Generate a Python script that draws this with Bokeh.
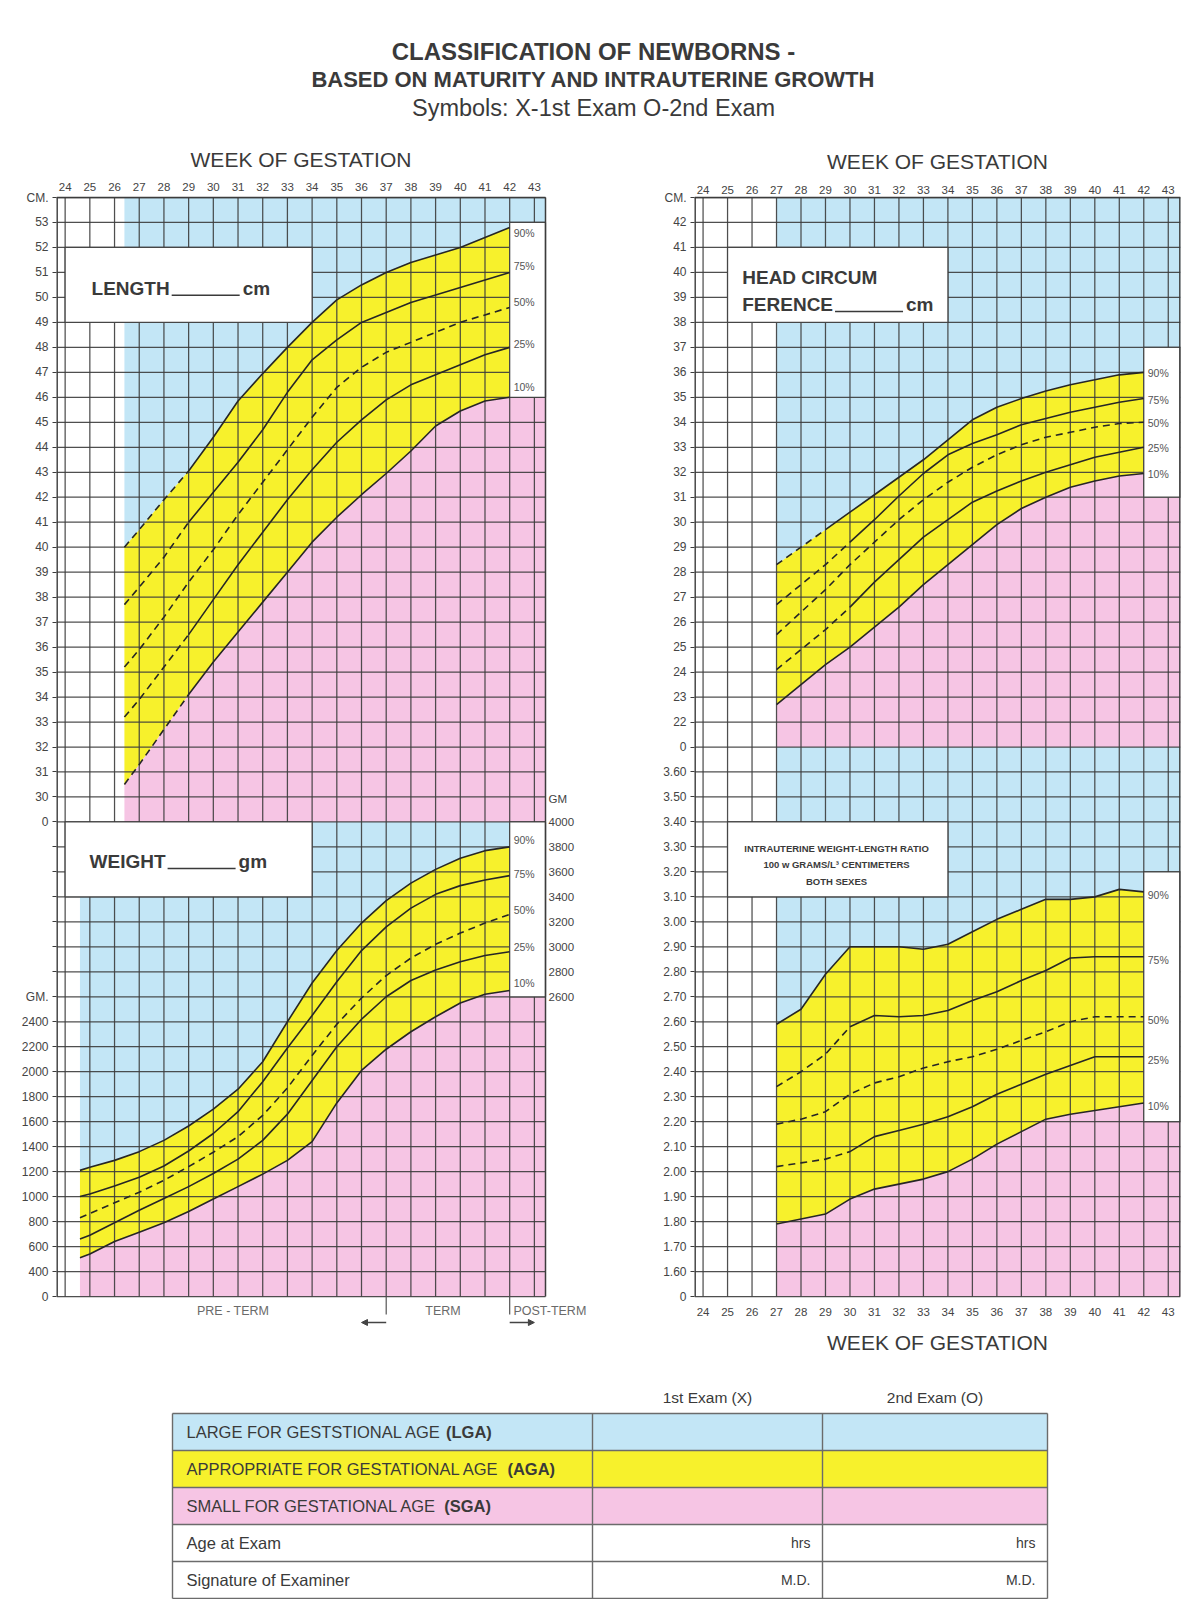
from bokeh.plotting import figure
from bokeh.models import Range1d, FixedTicker, Arrow, NormalHead
from bokeh.layouts import column, row
from bokeh.embed import file_html
from bokeh.resources import INLINE
from bokeh.core.properties import value

# ---------------------------------------------------------------- data
TITLE_LINES = ["CLASSIFICATION OF NEWBORNS -",
               "BASED ON MATURITY AND INTRAUTERINE GROWTH",
               "Symbols: X-1st Exam O-2nd Exam"]
AXIS_TITLE = "WEEK OF GESTATION"
WEEK_TICKS = list(range(24, 44))
PCT_LABELS = ["90%", "75%", "50%", "25%", "10%"]

# Length (cm)
LEN_WEEKS = [26.4, 27, 28, 29, 30, 31, 32, 33, 34, 35, 36, 37, 38, 39, 40, 41, 42]
LEN_90 = [40.0, 40.7, 41.9, 43.05, 44.4, 45.85, 46.95, 48.0, 49.0, 49.9, 50.5, 51.0, 51.4, 51.7, 52.0, 52.4, 52.8]
LEN_75 = [37.7, 38.4, 39.6, 41.0, 42.2, 43.4, 44.7, 46.2, 47.5, 48.3, 49.0, 49.4, 49.8, 50.1, 50.4, 50.7, 51.0]
LEN_50 = [35.2, 35.9, 37.2, 38.6, 39.9, 41.3, 42.6, 43.9, 45.2, 46.4, 47.2, 47.8, 48.2, 48.6, 49.0, 49.3, 49.6]
LEN_25 = [33.2, 33.9, 35.2, 36.5, 37.9, 39.3, 40.6, 41.9, 43.1, 44.2, 45.1, 45.9, 46.5, 46.9, 47.3, 47.7, 48.0]
LEN_10 = [30.5, 31.3, 32.7, 34.1, 35.4, 36.6, 37.8, 39.0, 40.2, 41.2, 42.1, 42.95, 43.85, 44.85, 45.45, 45.85, 46.0]
LEN_TICKS = list(range(30, 54))

# Weight (g)
WT_WEEKS = [24.6, 25, 26, 27, 28, 29, 30, 31, 32, 33, 34, 35, 36, 37, 38, 39, 40, 41, 42]
WT_90 = [1210, 1235, 1290, 1360, 1450, 1565, 1700, 1860, 2080, 2400, 2710, 2970, 3190, 3370, 3510, 3620, 3710, 3770, 3800]
WT_75 = [1000, 1020, 1085, 1155, 1245, 1365, 1505, 1680, 1920, 2190, 2450, 2720, 2970, 3160, 3310, 3420, 3490, 3535, 3570]
WT_50 = [830, 865, 950, 1035, 1130, 1240, 1355, 1480, 1650, 1870, 2130, 2380, 2590, 2770, 2910, 3020, 3110, 3190, 3260]
WT_25 = [660, 690, 790, 890, 985, 1080, 1185, 1300, 1450, 1660, 1930, 2200, 2420, 2600, 2730, 2815, 2880, 2930, 2960]
WT_10 = [510, 540, 640, 715, 790, 880, 980, 1080, 1180, 1290, 1440, 1750, 2010, 2180, 2320, 2440, 2550, 2620, 2650]
WT_TICKS_LEFT = [400, 600, 800, 1000, 1200, 1400, 1600, 1800, 2000, 2200, 2400]
WT_TICKS_RIGHT = [2600, 2800, 3000, 3200, 3400, 3600, 3800, 4000]

# Head circumference (cm)
HC_WEEKS = [27, 28, 29, 30, 31, 32, 33, 34, 35, 36, 37, 38, 39, 40, 41, 42]
HC_90 = [28.3, 29.0, 29.7, 30.4, 31.1, 31.8, 32.5, 33.3, 34.1, 34.6, 34.95, 35.25, 35.5, 35.7, 35.9, 36.0]
HC_75 = [26.7, 27.5, 28.3, 29.2, 30.1, 31.05, 31.95, 32.7, 33.15, 33.5, 33.9, 34.15, 34.4, 34.6, 34.8, 34.95]
HC_50 = [25.5, 26.4, 27.3, 28.3, 29.2, 30.1, 30.9, 31.6, 32.2, 32.7, 33.1, 33.4, 33.6, 33.8, 33.95, 34.0]
HC_25 = [24.1, 24.9, 25.7, 26.6, 27.6, 28.5, 29.4, 30.1, 30.8, 31.25, 31.65, 32.0, 32.3, 32.6, 32.8, 33.0]
HC_10 = [22.7, 23.5, 24.3, 25.0, 25.8, 26.6, 27.5, 28.3, 29.1, 29.9, 30.55, 31.0, 31.4, 31.65, 31.85, 31.95]
HC_TICKS = list(range(22, 43))

# Weight-length ratio
RT_WEEKS = [27, 28, 29, 30, 31, 32, 33, 34, 35, 36, 37, 38, 39, 40, 41, 42]
RT_90 = [2.59, 2.65, 2.79, 2.90, 2.90, 2.90, 2.89, 2.91, 2.96, 3.01, 3.05, 3.09, 3.09, 3.10, 3.13, 3.12]
RT_75 = [2.34, 2.40, 2.47, 2.58, 2.625, 2.62, 2.625, 2.645, 2.685, 2.72, 2.765, 2.805, 2.855, 2.86, 2.86, 2.86]
RT_50 = [2.19, 2.21, 2.24, 2.31, 2.355, 2.38, 2.415, 2.44, 2.46, 2.49, 2.525, 2.56, 2.60, 2.62, 2.62, 2.62]
RT_25 = [2.02, 2.035, 2.05, 2.08, 2.14, 2.165, 2.19, 2.22, 2.26, 2.31, 2.35, 2.39, 2.425, 2.46, 2.46, 2.46]
RT_10 = [1.79, 1.81, 1.83, 1.89, 1.93, 1.95, 1.97, 2.00, 2.05, 2.11, 2.16, 2.21, 2.23, 2.245, 2.26, 2.275]
RT_TICKS = [1.60, 1.70, 1.80, 1.90, 2.00, 2.10, 2.20, 2.30, 2.40, 2.50, 2.60, 2.70,
            2.80, 2.90, 3.00, 3.10, 3.20, 3.30, 3.40, 3.50, 3.60]

TERM_WEEKS = [37, 42]
TERM_LABELS = ["PRE - TERM", "TERM", "POST-TERM"]

TABLE_HEAD = ["1st Exam (X)", "2nd Exam (O)"]
TABLE_ROWS = ["LARGE FOR GESTSTIONAL AGE", "APPROPRIATE FOR GESTATIONAL AGE",
              "SMALL FOR GESTATIONAL AGE", "Age at Exam", "Signature of Examiner"]
TABLE_TAGS = ["(LGA)", "(AGA)", "(SGA)", "", ""]
TABLE_UNITS = ["", "", "", "hrs", "M.D."]

# ---------------------------------------------------------------- style
FONT = "Liberation Sans"
BLUE = "#c3e6f6"
YELLOW = "#f7f12c"
PINK = "#f6c5e4"
GRID = "#3c3c3c"
INK = "#262626"
TEXT = "#3a3a3a"
WHITE_TABLE = "#ffffff"

W = 1195
TITLE_H = 130
CHART_H = 1226
TABLE_H = 243
BT, BB = 67, 60
N_ROWS = 44
X0 = 23.65
LX1, RX1 = 43.45, 43.5                 # right edges of the two grids
LW, LBL, LBR = 620, 56, 4              # left chart: frame runs on past the grid for notes
RW, RBL, RBR = 575, 74, 15
GRID_PX_L = 489                          # width of the left grid in pixels
PPW_L = GRID_PX_L / (LX1 - X0)
LX_VIEW = X0 + (LW - LBL - LBR) / PPW_L
ROW_PX = (CHART_H - BT - BB) / N_ROWS
BELOW = BB / ROW_PX          # rows of the frame kept below the grid for notes
ABOVE = BT / ROW_PX          # rows of the frame kept above the grid for the week scale


# row scales: each section of a chart lives on a shared row grid
def len_row(v): return v - 10
def wt_row(v): return (v - 200) / 200
def hc_row(v): return v + 1
def rt_row(v): return (v - 1.5) / 0.1


REG = {' ': 278, 'A': 667, 'B': 667, 'C': 722, 'D': 722, 'E': 667, 'F': 611, 'G': 778, 'H': 722,
       'I': 278, 'J': 500, 'K': 667, 'L': 556, 'M': 833, 'N': 722, 'O': 778, 'P': 667, 'Q': 778,
       'R': 722, 'S': 667, 'T': 611, 'U': 722, 'V': 667, 'W': 944, 'X': 667, 'Y': 667, 'Z': 611,
       '(': 333, ')': 333, '-': 333}
BOLD = dict(REG, A=722, B=722, J=556, K=722, L=611, P=667)


def text_px(s, size, bold=False):
    tbl = BOLD if bold else REG
    return sum(tbl.get(ch, 556) for ch in s) * size / 1000.0


def style_axis(ax, size):
    ax.axis_line_color = None
    ax.minor_tick_line_color = None
    ax.major_tick_line_color = GRID
    ax.major_tick_out = 4
    ax.major_tick_in = 0
    ax.major_label_text_font = FONT
    ax.major_label_text_font_size = size
    ax.major_label_text_color = "#444444"


def base_panel(width, bl, br, x_view_end):
    p = figure(width=width, height=CHART_H, x_range=Range1d(X0, x_view_end),
               y_range=Range1d(-BELOW, N_ROWS + ABOVE),
               output_backend="svg", toolbar_location=None, x_axis_location=None,
               min_border_left=bl, min_border_right=br, min_border_top=0, min_border_bottom=0)
    p.xgrid.visible = False
    p.ygrid.visible = False
    p.outline_line_color = None
    p.background_fill_color = "white"
    p.border_fill_color = "white"
    ay = p.yaxis[0]
    ay.ticker = FixedTicker(ticks=list(range(0, N_ROWS + 1)))
    style_axis(ay, "12px")
    ay.major_label_standoff = 4
    return p


def week_scale(p, x_grid_end, label_px, title_px):
    """week numbers and the axis title, label_px/title_px measured from the grid bottom"""
    p.text(x=WEEK_TICKS, y=[label_px / ROW_PX] * len(WEEK_TICKS), text=[str(w) for w in WEEK_TICKS],
           text_align="center", text_baseline="middle", text_font=value(FONT),
           text_font_size="11.5px", text_color="#444444")
    p.text(x=[(X0 + x_grid_end) / 2], y=[title_px / ROW_PX], text=[AXIS_TITLE], text_align="center",
           text_baseline="middle", text_font=value(FONT), text_font_size="21px", text_color=TEXT)


def fill_section(p, weeks, curves, to_row, x_edge, floor, ceil, hi_col, lo_col):
    rows = [[to_row(v) for v in c] for c in curves]
    top, bot = rows[0], rows[-1]
    bx = [weeks[0]] + list(weeks) + [weeks[-1], x_edge, x_edge]
    by = [ceil] + top + [hi_col, hi_col, ceil]
    p.patch(bx, by, fill_color=BLUE, line_color=None)
    px = [weeks[0]] + list(weeks) + [weeks[-1], x_edge, x_edge]
    py = [floor] + bot + [lo_col, lo_col, floor]
    p.patch(px, py, fill_color=PINK, line_color=None)
    p.varea(x=list(weeks), y1=bot, y2=top, fill_color=YELLOW)
    return rows


def draw_grid(p, x_end):
    n = len(WEEK_TICKS)
    p.segment(x0=WEEK_TICKS, y0=[0] * n, x1=WEEK_TICKS, y1=[N_ROWS] * n,
              line_color=GRID, line_width=1.25, line_alpha=0.9)
    rr = list(range(0, N_ROWS + 1))
    p.segment(x0=[X0] * len(rr), y0=rr, x1=[x_end] * len(rr), y1=rr,
              line_color=GRID, line_width=1.25, line_alpha=0.9)


def draw_edges(p, x_end, right_w):
    p.segment(x0=[X0, X0], y0=[0, N_ROWS], x1=[X0, x_end], y1=[N_ROWS, N_ROWS],
              line_color=GRID, line_width=[2.8, 1.5])
    p.segment(x0=[x_end], y0=[0], x1=[x_end], y1=[N_ROWS], line_color=GRID, line_width=right_w)


def white_box(p, l, r, b, t):
    p.quad(left=[l], right=[r], bottom=[b], top=[t], fill_color="white",
           line_color=GRID, line_width=1.25, line_alpha=0.9)


def draw_curves(p, weeks, rows, dash_until, label_dy):
    for vals, d in zip(rows, dash_until):
        di = [i for i, w in enumerate(weeks) if w <= d]
        si = [i for i, w in enumerate(weeks) if w >= d]
        if len(di) > 1:
            p.line([weeks[i] for i in di], [vals[i] for i in di], line_color=INK,
                   line_width=1.6, line_dash="7 5")
        if len(si) > 1:
            p.line([weeks[i] for i in si], [vals[i] for i in si], line_color=INK,
                   line_width=1.6)
    p.text(x=[weeks[-1]] * len(rows), y=[r[-1] for r in rows], text=PCT_LABELS,
           x_offset=4, y_offset=label_dy, text_baseline="middle", text_align="left",
           text_font=value(FONT), text_font_size="10.5px", text_color="#555555")


def box_title(p, x, y, word, unit, ppw, extra_lines=()):
    size = 19
    for txt, yy in extra_lines:
        p.text(x=[x], y=[yy], text=[txt], text_baseline="middle", text_font=value(FONT),
               text_font_style="bold", text_font_size="19px", text_color=TEXT)
    p.text(x=[x], y=[y], text=[word], text_baseline="middle", text_font=value(FONT),
           text_font_style="bold", text_font_size="19px", text_color=TEXT)
    x_line0 = x + (text_px(word, size, True) + 2) / ppw
    x_line1 = x_line0 + 68 / ppw
    y_base = y - 6.6 / ROW_PX
    p.segment(x0=[x_line0], y0=[y_base], x1=[x_line1], y1=[y_base], line_color=TEXT, line_width=1.3)
    p.text(x=[x_line1 + 3 / ppw], y=[y], text=[unit], text_baseline="middle",
           text_font=value(FONT), text_font_style="bold", text_font_size="19px", text_color=TEXT)


# ---------------------------------------------------------------- left chart
pL = base_panel(LW, LBL, LBR, LX_VIEW)

len_rows = fill_section(pL, LEN_WEEKS, [LEN_90, LEN_75, LEN_50, LEN_25, LEN_10], len_row, LX1,
                        floor=len_row(LEN_TICKS[0]) - 1, ceil=N_ROWS,
                        hi_col=len_row(LEN_TICKS[-1]), lo_col=len_row(46))
wt_rows = fill_section(pL, WT_WEEKS, [WT_90, WT_75, WT_50, WT_25, WT_10], wt_row, LX1,
                       floor=0, ceil=wt_row(WT_TICKS_RIGHT[-1]),
                       hi_col=wt_row(WT_TICKS_RIGHT[-1]), lo_col=wt_row(WT_TICKS_RIGHT[0]))
draw_grid(pL, LX1)
white_box(pL, 24, 34, 39, 42)
white_box(pL, 42, LX1, len_row(46), len_row(LEN_TICKS[-1]))
white_box(pL, 24, 34, 16, wt_row(WT_TICKS_RIGHT[-1]))
white_box(pL, 42, LX1, wt_row(WT_TICKS_RIGHT[0]), wt_row(WT_TICKS_RIGHT[-1]))
draw_edges(pL, LX1, 1.5)
draw_curves(pL, LEN_WEEKS, len_rows, [29, 29, 99, 29, 29], [6, -6, -5, -3, -10])
draw_curves(pL, WT_WEEKS, wt_rows, [0, 0, 99, 0, 0], [-7, -2, -4, -5, -8])
box_title(pL, 25.07, 40.35, "LENGTH", "cm", PPW_L)
box_title(pL, 24.99, 17.4, "WEIGHT", "gm", PPW_L)
week_scale(pL, LX1, N_ROWS * ROW_PX + 11, N_ROWS * ROW_PX + 38)

ovL = {r: "" for r in range(N_ROWS + 1)}
ovL[N_ROWS] = "CM."
for cm in LEN_TICKS:
    ovL[int(len_row(cm))] = str(cm)
ovL[int(len_row(LEN_TICKS[0])) - 1] = "0"
ovL[int(wt_row(WT_TICKS_RIGHT[0]))] = "GM."
for g in WT_TICKS_LEFT:
    ovL[int(wt_row(g))] = str(g)
ovL[0] = "0"
pL.yaxis[0].major_label_overrides = ovL

# right-hand gram scale, written just outside the grid
gm_row = wt_row(WT_TICKS_RIGHT[-1]) + 0.9
pL.text(x=[LX1] * (len(WT_TICKS_RIGHT) + 1), y=[wt_row(g) for g in WT_TICKS_RIGHT] + [gm_row],
        text=[str(g) for g in WT_TICKS_RIGHT] + ["GM"], x_offset=3, text_align="left",
        text_baseline="middle", text_font=value(FONT), text_font_size="11.5px", text_color="#444444")

term_y = -14 / ROW_PX
pL.text(x=[30.8, 39.3], y=[term_y, term_y], text=TERM_LABELS[:2], text_align="center",
        text_baseline="middle", text_font=value(FONT), text_font_size="12.5px", text_color="#6a6a6a")
pL.text(x=[TERM_WEEKS[1] + 0.15], y=[term_y], text=TERM_LABELS[2:], text_align="left",
        text_baseline="middle", text_font=value(FONT), text_font_size="12.5px", text_color="#6a6a6a")
pL.segment(x0=TERM_WEEKS, y0=[0, 0], x1=TERM_WEEKS, y1=[-18 / ROW_PX] * 2,
           line_color="#555555", line_width=1.2)
for tw, dx in zip(TERM_WEEKS, [-1, 1]):
    pL.add_layout(Arrow(end=NormalHead(size=6, fill_color="#444444", line_color="#444444"),
                        x_start=tw, y_start=-26 / ROW_PX, x_end=tw + dx, y_end=-26 / ROW_PX,
                        line_color="#444444", line_width=1.3))

# ---------------------------------------------------------------- right chart
pR = base_panel(RW, RBL, RBR, RX1)
ppw_R = (RW - RBL - RBR) / (RX1 - X0)

hc_rows = fill_section(pR, HC_WEEKS, [HC_90, HC_75, HC_50, HC_25, HC_10], hc_row, RX1,
                       floor=hc_row(HC_TICKS[0]) - 1, ceil=N_ROWS,
                       hi_col=hc_row(37), lo_col=hc_row(31))
rt_rows = fill_section(pR, RT_WEEKS, [RT_90, RT_75, RT_50, RT_25, RT_10], rt_row, RX1,
                       floor=0, ceil=hc_row(HC_TICKS[0]) - 1,
                       hi_col=rt_row(3.20), lo_col=rt_row(2.20))
draw_grid(pR, RX1)
white_box(pR, 25, 34, 39, 42)
white_box(pR, 42, RX1, hc_row(31), hc_row(37))
white_box(pR, 25, 34, 16, 19)
white_box(pR, 42, RX1, rt_row(2.20), rt_row(3.20))
draw_edges(pR, RX1, 2.8)
draw_curves(pR, HC_WEEKS, hc_rows, [29, 30, 99, 30, 0], 1)
draw_curves(pR, RT_WEEKS, rt_rows, [0, 30, 99, 30, 0], 3)
box_title(pR, 25.6, 39.7, "FERENCE", "cm", ppw_R, extra_lines=[("HEAD CIRCUM", 40.8)])
pR.text(x=[29.45] * 3, y=[17.95, 17.3, 16.6],
        text=["INTRAUTERINE WEIGHT-LENGTH RATIO", "100 w GRAMS/L\u00b3 CENTIMETERS", "BOTH SEXES"],
        text_align="center", text_baseline="middle", text_font=value(FONT),
        text_font_style="bold", text_font_size="9.5px", text_color=TEXT)
week_scale(pR, RX1, N_ROWS * ROW_PX + 8, N_ROWS * ROW_PX + 36)
week_scale(pR, RX1, -15, -46)

ovR = {r: "" for r in range(N_ROWS + 1)}
ovR[N_ROWS] = "CM."
for cm in HC_TICKS:
    ovR[int(hc_row(cm))] = str(cm)
ovR[int(hc_row(HC_TICKS[0])) - 1] = "0"
for t in RT_TICKS:
    ovR[int(round(rt_row(t)))] = "%.2f" % t
ovR[0] = "0"
pR.yaxis[0].major_label_overrides = ovR

# ---------------------------------------------------------------- title
pT = figure(width=W, height=TITLE_H, x_range=Range1d(0, W), y_range=Range1d(TITLE_H, 0),
            x_axis_location=None, y_axis_location=None, toolbar_location=None,
            output_backend="svg", min_border=0)
pT.grid.visible = False
pT.outline_line_color = None
for txt, yy, sz, st in zip(TITLE_LINES, [51, 79, 107], ["24px", "22px", "23.5px"],
                           ["bold", "bold", "normal"]):
    pT.text(x=[593], y=[yy], text=[txt], text_align="center", text_baseline="middle",
            text_font=value(FONT), text_font_size=sz, text_font_style=st, text_color=TEXT)

# ---------------------------------------------------------------- table
pB = figure(width=W, height=TABLE_H, x_range=Range1d(0, W), y_range=Range1d(TABLE_H, 0),
            x_axis_location=None, y_axis_location=None, toolbar_location=None,
            output_backend="svg", min_border=0)
pB.grid.visible = False
pB.outline_line_color = None
COLS = [172, 592, 822, 1047]
TOP, RH = 57, 37
n = len(TABLE_ROWS)
tops = [TOP + i * RH for i in range(n)]
fills = [BLUE, YELLOW, PINK, WHITE_TABLE, WHITE_TABLE]
pB.quad(left=[COLS[0]] * n, right=[COLS[-1]] * n, top=tops, bottom=[t + RH for t in tops],
        fill_color=fills, line_color=None)
hl = [TOP + i * RH for i in range(n + 1)]
pB.segment(x0=[COLS[0]] * len(hl), y0=hl, x1=[COLS[-1]] * len(hl), y1=hl,
           line_color="#6b6b6b", line_width=1.4)
pB.segment(x0=COLS, y0=[TOP] * len(COLS), x1=COLS, y1=[TOP + n * RH] * len(COLS),
           line_color="#6b6b6b", line_width=1.4)
lx = COLS[0] + 14
pB.text(x=[lx] * n, y=[t + RH / 2 for t in tops], text=TABLE_ROWS, text_baseline="middle",
        text_font=value(FONT), text_font_size="16.5px", text_color=TEXT)
tag_x = [lx + text_px(s + " ", 16.5) for s in TABLE_ROWS]
pB.text(x=tag_x, y=[t + RH / 2 for t in tops], text=TABLE_TAGS, text_baseline="middle",
        text_font=value(FONT), text_font_style="bold", text_font_size="16.5px", text_color=TEXT)
for c in (COLS[2], COLS[3]):
    pB.text(x=[c - 12] * n, y=[t + RH / 2 for t in tops], text=TABLE_UNITS, text_align="right",
            text_baseline="middle", text_font=value(FONT), text_font_size="14px", text_color=TEXT)
pB.text(x=[(COLS[1] + COLS[2]) / 2, (COLS[2] + COLS[3]) / 2], y=[41, 41], text=TABLE_HEAD,
        text_align="center", text_baseline="middle", text_font=value(FONT),
        text_font_size="15.5px", text_color=TEXT)

layout = column(pT, row(pL, pR), pB)
open("out.html", "w").write(file_html(layout, INLINE))
